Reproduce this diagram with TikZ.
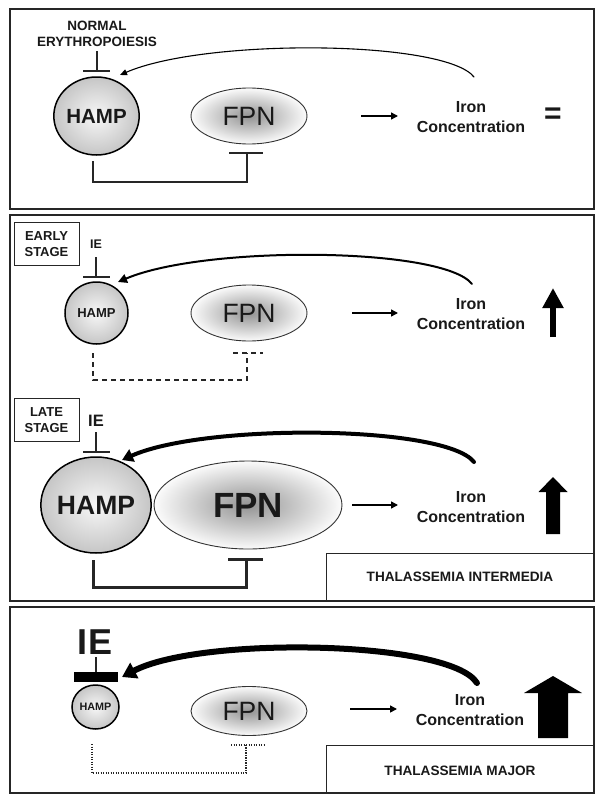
\documentclass[tikz,border=0pt]{standalone}
\usepackage{fontspec}
\setmainfont{Liberation Sans}
\usetikzlibrary{shapes.geometric,arrows.meta}
\tikzset{
  panel/.style={draw=black!85, line width=1.3pt},
  stagebox/.style={draw=black!85, line width=1pt},
  hampnode/.style={ellipse, draw=black, line width=1.5pt, inner sep=0pt,
    inner color=gray!6, outer color=gray!45, text=black!90},
  fpnnode/.style={ellipse, draw=black!80, line width=0.9pt, inner sep=0pt,
    inner color=gray!85, outer color=gray!3, text=black!90},
  lbl/.style={align=center, inner sep=0pt, text=black!90},
  inh/.style={draw=black!85, line width=1.3pt},
  fb/.style={draw=black, line cap=round},
  harrow/.style={draw=black, line width=1.5pt, -{Triangle[length=7pt,width=7pt]}},
  upfill/.style={fill=black, draw=none},
}
\begin{document}
\begin{tikzpicture}[x=1pt,y=-1pt]
\useasboundingbox (0,0) rectangle (604,803);
\fill[white] (0,0) rectangle (604,803);

%%%%%%%%%%%% PANEL 1 %%%%%%%%%%%%
\draw[panel] (10,9) rectangle (594,209);
\node[lbl, font=\bfseries\fontsize{13.5}{16}\selectfont] (ne) at (97,34) {NORMAL\\ERYTHROPOIESIS};
\node[hampnode, minimum width=79pt, minimum height=78pt, font=\bfseries\fontsize{20.5}{24}\selectfont] (h1) at (96.5,116) {HAMP};
\node[fpnnode, minimum width=116pt, minimum height=56pt, font=\fontsize{26.5}{30}\selectfont] (f1) at (249,116) {FPN};
\node[lbl, font=\bfseries\fontsize{16}{20}\selectfont] (i1) at (471,117) {Iron\\Concentration};
\node[lbl, font=\bfseries\fontsize{30}{30}\selectfont] (eq) at (553,116) {=};
% inhibition from erythropoiesis
\coordinate (h1t) at (97,71);
\draw[inh] (ne.south |- 0,51) -- (h1t);
\draw[inh] ([xshift=-14pt]h1t) -- ([xshift=13pt]h1t);
% hamp -> fpn inhibition
\coordinate (h1b) at (93,161);
\coordinate (f1b) at (247,153);
\draw[inh] (h1b) |- (f1b |- 0,182) -- (f1b);
\draw[inh] ([xshift=-18pt]f1b) -- ([xshift=16pt]f1b);
% arrow
\coordinate (a1s) at (361,116);
\coordinate (a1e) at (398,116);
\draw[harrow] (a1s) -- (a1e);
% feedback
\coordinate (c1s) at (474,77);
\coordinate (c1e) at (120,75);
\draw[fb, line width=1.1pt, -{Triangle[length=7pt,width=6pt]}] (c1s) .. controls (445,40) and (205,38) .. (c1e);

%%%%%%%%%%%% PANEL 2 %%%%%%%%%%%%
\draw[panel] (10,215) rectangle (594,601);
% early stage
\draw[stagebox] (14,222) rectangle (79,265);
\node[lbl, font=\bfseries\fontsize{13}{16}\selectfont] (es) at (46.5,244) {EARLY\\STAGE};
\node[lbl, font=\bfseries\fontsize{12.5}{14}\selectfont] (ie2) at (96,244) {IE};
\node[hampnode, minimum width=63pt, minimum height=62pt, font=\bfseries\fontsize{13}{15}\selectfont] (h2) at (96.5,313) {HAMP};
\node[fpnnode, minimum width=116pt, minimum height=56pt, font=\fontsize{26.5}{30}\selectfont] (f2) at (249,313) {FPN};
\node[lbl, font=\bfseries\fontsize{16}{20}\selectfont] (i2) at (471,314) {Iron\\Concentration};
\coordinate (h2t) at (96,277);
\draw[inh] (ie2.south |- 0,257) -- (h2t);
\draw[inh] ([xshift=-13pt]h2t) -- ([xshift=14pt]h2t);
\coordinate (h2b) at (93,353);
\coordinate (f2b) at (247,353);
\draw[inh, dash pattern=on 5pt off 4pt] (h2b) |- (f2b |- 0,380) -- (f2b);
\draw[inh, dash pattern=on 5pt off 4pt] ([xshift=-14pt]f2b) -- ([xshift=16pt]f2b);
\coordinate (a2s) at (352,313);
\coordinate (a2e) at (398,313);
\draw[harrow] (a2s) -- (a2e);
\coordinate (c2s) at (472,284);
\coordinate (c2e) at (118,282);
\draw[fb, line width=2pt, -{Triangle[length=9pt,width=9pt]}] (c2s) .. controls (443,247) and (205,245) .. (c2e);
\coordinate (u2b) at (553,337);
\coordinate (u2t) at (553,288);
\draw[line width=6pt, -{Triangle[length=20pt,width=20pt]}] (u2b) -- (u2t);

% late stage
\draw[stagebox] (14,398) rectangle (79,441);
\node[lbl, font=\bfseries\fontsize{13}{16}\selectfont] (ls) at (46.5,420) {LATE\\STAGE};
\node[lbl, font=\bfseries\fontsize{16.5}{18}\selectfont] (ie3) at (96,421) {IE};
\node[hampnode, minimum width=96pt, minimum height=96pt, font=\bfseries\fontsize{26.5}{30}\selectfont] (h3) at (96,505) {HAMP};
\node[fpnnode, minimum width=188pt, minimum height=88pt, font=\bfseries\fontsize{35}{40}\selectfont] (f3) at (248,505) {FPN};
\node[lbl, font=\bfseries\fontsize{16}{20}\selectfont] (i3) at (471,507) {Iron\\Concentration};
\coordinate (h3t) at (96,452);
\draw[inh, line width=2.5pt] (ie3.south |- 0,432) -- (h3t);
\draw[inh, line width=2.5pt] ([xshift=-13pt]h3t) -- ([xshift=14pt]h3t);
\coordinate (h3b) at (93,560);
\coordinate (f3b) at (246,559);
\draw[inh, line width=3pt] (h3b) |- (f3b |- 0,587) -- (f3b);
\draw[inh, line width=3pt] ([xshift=-18pt]f3b) -- ([xshift=17pt]f3b);
\coordinate (a3s) at (352,505);
\coordinate (a3e) at (398,505);
\draw[harrow] (a3s) -- (a3e);
\coordinate (c3s) at (474,462);
\coordinate (c3e) at (122,460);
\draw[fb, line width=4pt, -{Triangle[length=11pt,width=13pt]}] (c3s) .. controls (445,425) and (205,423) .. (c3e);
\fill[upfill] (546,534) -- (546,492) -- (538.5,492) -- (553,477) -- (567.5,492) -- (560,492) -- (560,534) -- cycle;
\draw[stagebox] (326,553) -- (326,601) (326,553) -- (594,553);
\node[lbl, font=\bfseries\fontsize{13.6}{16}\selectfont] (ti) at (460,577) {THALASSEMIA INTERMEDIA};

%%%%%%%%%%%% PANEL 3 %%%%%%%%%%%%
\draw[panel] (10,607) rectangle (594,793);
\node[lbl, font=\bfseries\fontsize{36}{40}\selectfont] (ie4) at (95,642) {IE};
\node[hampnode, minimum width=47pt, minimum height=44pt, font=\bfseries\fontsize{10.8}{12}\selectfont] (h4) at (95.5,707) {HAMP};
\node[fpnnode, minimum width=116pt, minimum height=49pt, font=\fontsize{26.5}{30}\selectfont] (f4) at (249,711) {FPN};
\node[lbl, font=\bfseries\fontsize{16}{20}\selectfont] (i4) at (470,710) {Iron\\Concentration};
\coordinate (h4t) at (96,672);
\draw[inh, line width=1.2pt] (96,657) -- (h4t);
\fill[black] (73.5,672) rectangle (118,682);
\coordinate (h4b) at (92,744);
\coordinate (f4b) at (246,745);
\draw[inh, line width=1.1pt, dash pattern=on 1.2pt off 1.3pt] (h4b) |- (f4b |- 0,773) -- (f4b);
\draw[inh, line width=1.1pt, dash pattern=on 1.2pt off 1.3pt] ([xshift=-15pt]f4b) -- ([xshift=19pt]f4b);
\coordinate (a4s) at (350,709);
\coordinate (a4e) at (397,709);
\draw[harrow] (a4s) -- (a4e);
\coordinate (c4s) at (477,683);
\coordinate (c4e) at (122,677);
\draw[fb, line width=6pt, -{Triangle[length=14pt,width=17pt]}] (c4s) .. controls (450,640) and (200,636) .. (c4e);
\fill[upfill] (538,738) -- (538,693) -- (524,693) -- (553,676) -- (582,693) -- (568,693) -- (568,738) -- cycle;
\draw[stagebox] (326,745) -- (326,793) (326,745) -- (594,745);
\node[lbl, font=\bfseries\fontsize{13.6}{16}\selectfont] (tm) at (460,771) {THALASSEMIA MAJOR};
\end{tikzpicture}
\end{document}
